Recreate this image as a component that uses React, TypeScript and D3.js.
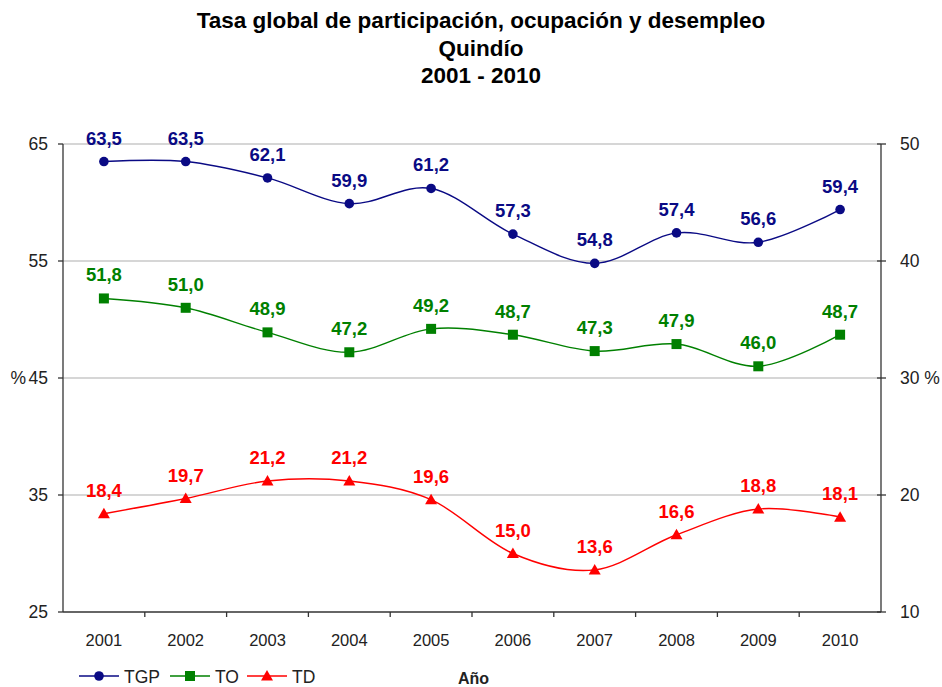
import React from "react";
import * as d3 from "d3";

const years = ["2001", "2002", "2003", "2004", "2005", "2006", "2007", "2008", "2009", "2010"];
const tgp = [63.5, 63.5, 62.1, 59.9, 61.2, 57.3, 54.8, 57.4, 56.6, 59.4];
const to = [51.8, 51.0, 48.9, 47.2, 49.2, 48.7, 47.3, 47.9, 46.0, 48.7];
const td = [18.4, 19.7, 21.2, 21.2, 19.6, 15.0, 13.6, 16.6, 18.8, 18.1];
const leftTicks = [25, 35, 45, 55, 65];
const rightTicks = [10, 20, 30, 40, 50];
const titleLines = ["Tasa global de participación, ocupación y desempleo", "Quindío", "2001 - 2010"];

const W = 942, H = 687;
const L = 63, R = 881, T = 144, B = 612;
const FONT = "'Liberation Sans', Arial, sans-serif";

export default function App() {
  const x = d3.scaleBand().domain(years).range([L, R]);
  const yL = d3.scaleLinear().domain([25, 65]).range([B, T]);
  const yR = d3.scaleLinear().domain([10, 50]).range([B, T]);
  const cx = (i: number) => (x(years[i]) as number) + x.bandwidth() / 2;
  const fmt = (v: number) => v.toFixed(1).replace(".", ",");

  const series = [
    { name: "TGP", data: tgp, y: yL, color: "#0a0a84", marker: "circle" },
    { name: "TO", data: to, y: yL, color: "#008000", marker: "square" },
    { name: "TD", data: td, y: yR, color: "#ff0000", marker: "triangle" },
  ];

  const marker = (type: string, px: number, py: number, color: string, key: any) => {
    if (type === "circle") return <circle key={key} cx={px} cy={py} r={4.8} fill={color} />;
    if (type === "square") return <rect key={key} x={px - 5} y={py - 5} width={10} height={10} fill={color} />;
    return <path key={key} d={`M${px},${py - 6}L${px + 6},${py + 4.5}L${px - 6},${py + 4.5}Z`} fill={color} />;
  };

  return (
    <svg width={W} height={H} style={{ display: "block", position: "absolute", left: 0, top: 0 }} fontFamily={FONT}>
      <rect width={W} height={H} fill="#fff" />
      {titleLines.map((t, i) => (
        <text key={i} x={481} y={28 + i * 27.5} textAnchor="middle" fontSize={22.5} fontWeight="bold" fill="#000">{t}</text>
      ))}
      {/* grid */}
      {leftTicks.filter(v => v !== 25).map(v => (
        <line key={v} x1={L} x2={R} y1={yL(v)} y2={yL(v)} stroke="#c8c8c8" strokeWidth={1.5} />
      ))}
      {/* axes */}
      <line x1={L} x2={L} y1={T} y2={B} stroke="#333" strokeWidth={1.3} />
      <line x1={R} x2={R} y1={T} y2={B} stroke="#333" strokeWidth={1.3} />
      <line x1={L} x2={R} y1={B} y2={B} stroke="#333" strokeWidth={1.3} />
      {leftTicks.map(v => (
        <g key={v}>
          <line x1={L - 5} x2={L} y1={yL(v)} y2={yL(v)} stroke="#333" strokeWidth={1.3} />
          <text x={L - 15} y={yL(v) + 6} textAnchor="end" fontSize={17.5} fill="#222">{v}</text>
        </g>
      ))}
      <text x={26} y={yL(45) + 6} textAnchor="end" fontSize={17.5} fill="#222">%</text>
      {rightTicks.map(v => (
        <g key={v}>
          <line x1={R - 4} x2={R + 5} y1={yR(v)} y2={yR(v)} stroke="#333" strokeWidth={1.3} />
          <text x={R + 19} y={yR(v) + 6} textAnchor="start" fontSize={17.5} fill="#222">{v === 30 ? "30 %" : v}</text>
        </g>
      ))}
      {years.map((yr, i) => (
        <g key={yr}>
          {i > 0 && <line x1={x(yr) as number} x2={x(yr) as number} y1={B} y2={B + 5} stroke="#333" strokeWidth={1.3} />}
          <text x={cx(i)} y={B + 34} textAnchor="middle" fontSize={16.5} fill="#222">{yr}</text>
        </g>
      ))}
      {/* series */}
      {series.map(s => {
        const line = d3.line<number>().x((_, i) => cx(i)).y(d => s.y(d)).curve(d3.curveCatmullRom.alpha(0));
        return (
          <g key={s.name}>
            <path d={line(s.data) || ""} fill="none" stroke={s.color} strokeWidth={1.4} />
            {s.data.map((v, i) => marker(s.marker, cx(i), s.y(v), s.color, i))}
            {s.data.map((v, i) => (
              <text key={"l" + i} x={cx(i)} y={s.y(v) - 17} textAnchor="middle" fontSize={18.5} fontWeight="bold" fill={s.color}>{fmt(v)}</text>
            ))}
          </g>
        );
      })}
      {/* legend */}
      {series.map((s, i) => {
        const lx = [79, 170, 247][i];
        const ly = 676;
        return (
          <g key={s.name}>
            <line x1={lx} x2={lx + 40} y1={ly} y2={ly} stroke={s.color} strokeWidth={1.4} />
            {marker(s.marker, lx + 20, ly, s.color, "m")}
            <text x={lx + 45} y={ly + 6.5} fontSize={17.5} fill="#222">{s.name}</text>
          </g>
        );
      })}
      <text x={458} y={684} fontSize={16} fontWeight="bold" fill="#222">Año</text>
    </svg>
  );
}
